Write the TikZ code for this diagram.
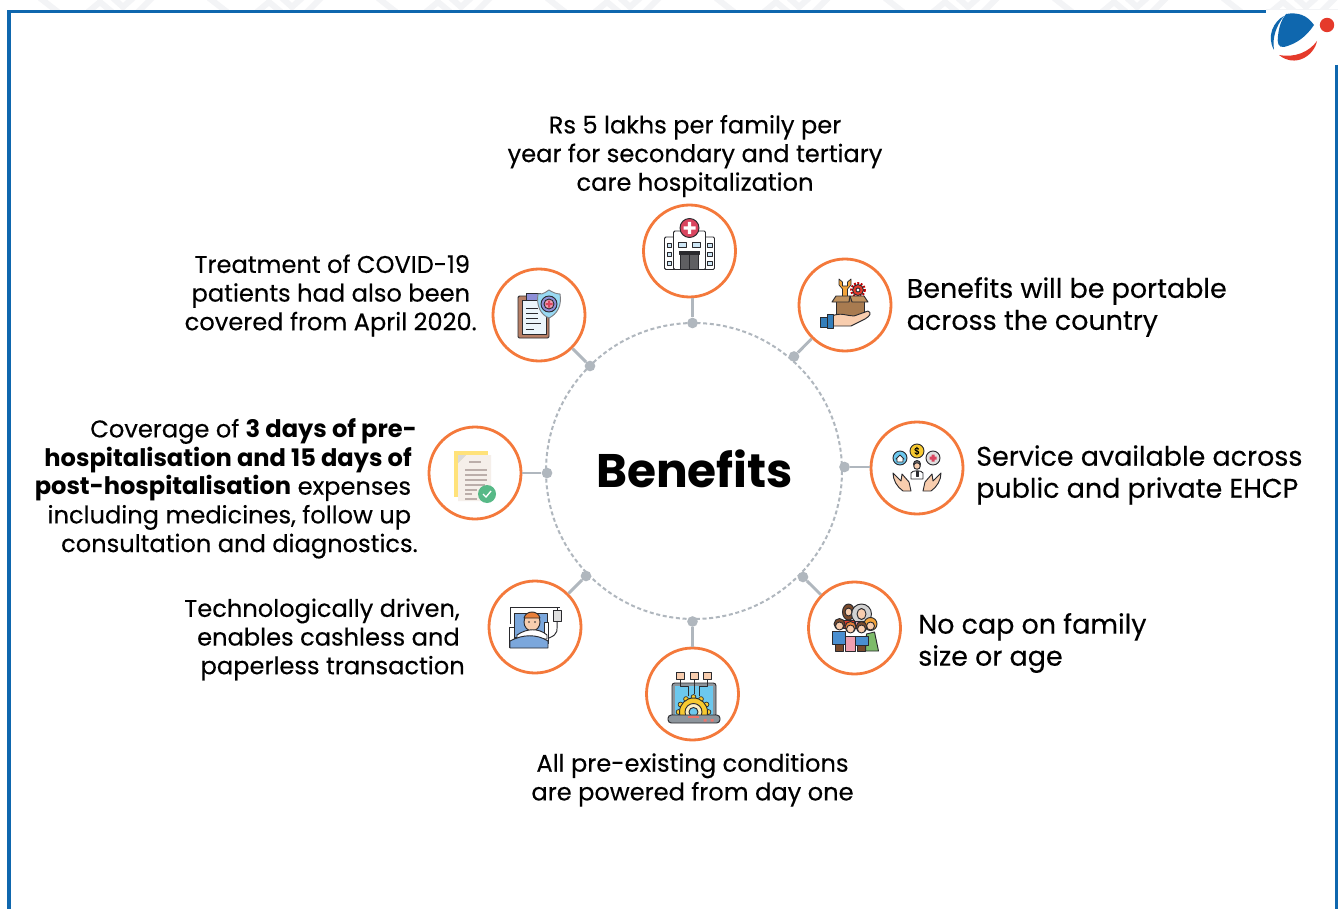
\documentclass[tikz,border=0pt]{standalone}
\usepackage{fontspec}
\setmainfont{Poppins}[FakeBold=0.3,BoldFeatures={FakeBold=0}]
\definecolor{blu}{HTML}{0F67AE}
\definecolor{org}{HTML}{F4793B}
\definecolor{gry}{HTML}{B0B7BE}
\definecolor{ink}{HTML}{2A2A2E}
\definecolor{faint}{HTML}{F3F4F6}
\definecolor{redm}{HTML}{E53A2B}
\definecolor{skin}{HTML}{F8CDAE}
\definecolor{boxb}{HTML}{A87B50}
\definecolor{boxl}{HTML}{C0925F}
\definecolor{crimson}{HTML}{D9455F}
\definecolor{sky}{HTML}{6CC8EE}
\definecolor{bed}{HTML}{7BA7DC}
\definecolor{wrench}{HTML}{F2A33A}
\definecolor{pale}{HTML}{CDE6F5}
\definecolor{paper}{HTML}{F5EFEA}
\definecolor{paperl}{HTML}{BBAEAA}
\definecolor{yel}{HTML}{FFE27A}
\definecolor{grn}{HTML}{57B987}
\definecolor{lap}{HTML}{8D959C}
\definecolor{gold}{HTML}{F7C92F}
\definecolor{clipb}{HTML}{B77F66}
\definecolor{vio}{HTML}{8E8FD8}
\definecolor{hairb}{HTML}{7A4A2C}
\definecolor{hairo}{HTML}{E87F3A}
\definecolor{tshirt}{HTML}{4A8FD0}
\definecolor{dress}{HTML}{7DBB6A}
\definecolor{rosy}{HTML}{F0A0B0}
\newcommand{\pad}[1]{\rule{#1}{0pt}}
\tikzset{
  x=0.75pt,y=-0.75pt,
  iconring/.style={circle,draw=org,line width=2.1pt,minimum size=69pt,inner sep=0pt,fill=white},
  hub/.style={circle,fill=gry,minimum size=8pt,inner sep=0pt},
  spoke/.style={draw=gry,line width=2.2pt},
  txt/.style={inner sep=0pt,text=black,font=\fontsize{18.1}{21.5}\selectfont},
  big/.style={inner sep=0pt,text=black,font=\fontsize{20.2}{24}\selectfont},
  ic/.style={draw=ink,line width=0.7pt,line join=round},
  chev/.style={draw=faint,line width=4.5pt},
}
\begin{document}
\begin{tikzpicture}
\useasboundingbox (0,0) rectangle (1338,909);
\fill[white] (0,0) rectangle (1338,909);
% faint band pattern along the top
\begin{scope}
\clip (0,0) rectangle (1338,10);
\foreach \k in {0,...,7}{
  \begin{scope}[shift={(169*\k,0)}]
    \draw[chev] (40,-2) -- (58,12);
    \draw[chev] (88,12) -- (100,2) -- (112,12);
    \draw[chev] (113,-2) -- (123,7) -- (133,-2);
    \draw[chev] (138,12) -- (152,-2);
  \end{scope}
}
\end{scope}
\draw[faint,line width=0.8pt] (1266,9.5) -- (1338,9.5);
% frame
\draw[blu,line width=2.3pt] (9,909) -- (9,11.5) -- (1266,11.5);
\draw[blu,line width=2.3pt] (1336.5,65) -- (1336.5,909);
% logo
\fill[blu] (1286,14) .. controls (1298,12) and (1307,15) .. (1314,25) .. controls (1306,37) and (1296,44) .. (1284,47) .. controls (1278,48) and (1277,42) .. (1278,36) .. controls (1279,27) and (1281,20) .. (1286,14) -- cycle;
\fill[blu] (1284,16) .. controls (1274,21) and (1266,36) .. (1274,50) .. controls (1272,38) and (1276,26) .. (1284,16) -- cycle;
\fill[redm] (1327,25) circle (7.2);
\fill[redm] (1279,55) .. controls (1295,58) and (1309,52) .. (1317,41) .. controls (1314,56) and (1295,68) .. (1279,55) -- cycle;
% central circle
\draw[gry,line width=1.5pt,dash pattern=on 3pt off 2pt] (694,471) circle (148);
\node[font=\fontsize{35.3}{40}\selectfont\bfseries,inner sep=0pt] (title) at (694.5,469) {Benefits};
% hubs
\node[hub] (h1) at (692.5,323) {};
\node[hub] (h2) at (794,356.5) {};
\node[hub] (h3) at (844.5,467) {};
\node[hub] (h4) at (803,577) {};
\node[hub] (h5) at (692.5,621.5) {};
\node[hub] (h6) at (586,576) {};
\node[hub] (h7) at (547,473) {};
\node[hub] (h8) at (590,366) {};
% rings
\node[iconring] (c1) at (689.5,251) {};
\node[iconring] (c2) at (845,305) {};
\node[iconring] (c3) at (917,468) {};
\node[iconring] (c4) at (854.5,628) {};
\node[iconring] (c5) at (692.5,694) {};
\node[iconring] (c6) at (535,627) {};
\node[iconring] (c7) at (475,473) {};
\node[iconring] (c8) at (539,315) {};
\draw[spoke] (h1) -- (c1.south -| h1);
\draw[spoke] (h2) -- (c2);
\draw[spoke] (h3) -- (c3.west |- h3);
\draw[spoke] (h4) -- (c4);
\draw[spoke] (h5) -- (c5);
\draw[spoke] (h6) -- (c6);
\draw[spoke] (h7) -- (c7);
\draw[spoke] (h8) -- (c8);
% icon 1: hospital
\begin{scope}[shift={(689.5,251)}]
\draw[ic,fill=white,rounded corners=1pt] (-25,-14) rectangle (25,18.5);
\draw[ic,fill=white,rounded corners=1pt] (-16,-20) rectangle (16,18.5);
\foreach \yy in {-8,1,10}{\draw[ic,fill=pale] (-22.5,\yy) rectangle (-18,\yy+4.5);\draw[ic,fill=pale] (18,\yy) rectangle (22.5,\yy+4.5);}
\draw[ic,fill=pale] (-11,-9) rectangle (-3,-4);
\draw[ic,fill=pale] (3,-9) rectangle (11,-4);
\draw[ic,fill=ink!75] (-9,3) rectangle (9,18.5);
\draw[ic] (0,3) -- (0,18.5);
\draw[ic,fill=ink] (-10,0.5) rectangle (10,3);
\draw[ic,fill=crimson] (0,-23) circle (9.5);
\fill[white] (-6,-24.7) rectangle (6,-21.3) (-1.7,-29) rectangle (1.7,-17);
\end{scope}
% icon 2: box on hand
\begin{scope}[shift={(845,305)}]
\draw[ic,fill=wrench,line width=0.5pt] (-6,-26) -- (-6,-20) -- (-2.5,-16) -- (-2.5,-8) -- (2.5,-8) -- (2.5,-16) -- (6,-20) -- (6,-26) -- (2.5,-23) -- (2.5,-19) -- (-2.5,-19) -- (-2.5,-23) -- cycle;
\draw[red!75!black,line width=1.6pt,dash pattern=on 1.4pt off 1.2pt] (13,-15) circle (6.8);
\draw[ic,fill=redm] (13,-15) circle (5.5);
\draw[ic,fill=white] (13,-15) circle (2);
\draw[ic,fill=boxb] (-9,-9) rectangle (19,13);
\draw[ic,fill=boxl] (-9,-9) -- (-13,-3) -- (4,-3) -- (5,-9) -- cycle;
\draw[ic,fill=boxl] (19,-9) -- (23,-3) -- (7,-3) -- (5,-9) -- cycle;
\draw[ic,fill=skin] (-13,11) .. controls (-4,7) and (2,11) .. (9,11) -- (23,6) .. controls (27,8) and (25,11) .. (20,14) -- (6,21) -- (-13,21) -- cycle;
\draw[ic,fill=blu!85] (-18,9) rectangle (-12,23);
\draw[ic,fill=blu!85] (-25,12) rectangle (-18,22);
\end{scope}
% icon 3: service
\begin{scope}[shift={(917,468)}]
\draw[ic,fill=sky] (-17,-10) circle (7);
\draw[ic,fill=white] (-21,-9) -- (-17,-13) -- (-13,-9) -- (-14,-9) -- (-14,-6) -- (-20,-6) -- (-20,-9) -- cycle;
\draw[ic,fill=gold] (0,-17) circle (7);
\node[font=\fontsize{7}{7}\selectfont,inner sep=0pt] (dollar) at (0,-17) {\$};
\draw[ic,fill=gray!25] (16,-10) circle (7);
\fill[crimson] (12.5,-11.5) rectangle (19.5,-8.5) (14.5,-13.5) rectangle (17.5,-6.5);
\draw[ic,fill=ink!70] (0,-4) circle (3.5);
\draw[ic,fill=skin] (0,-2) circle (3.3);
\draw[ic,fill=white] (-6,11) -- (-6,5) .. controls (-5,2) and (5,2) .. (6,5) -- (6,11) -- cycle;
\draw[ic,fill=ink] (-1,3) -- (1,3) -- (1,8) -- (-1,8) -- cycle;
\draw[ic,fill=skin] (-24,5) -- (-16,13) -- (-15,6) -- (-8,14) -- (-6,23) -- (-14,23) .. controls (-20,19) and (-24,12) .. (-24,5) -- cycle;
\draw[ic,fill=skin] (24,5) -- (16,13) -- (15,6) -- (8,14) -- (6,23) -- (14,23) .. controls (20,19) and (24,12) .. (24,5) -- cycle;
\end{scope}
% icon 4: family
\begin{scope}[shift={(854.5,628)}]
\draw[ic,fill=hairb] (-6,-16) ellipse (6 and 8);
\draw[ic,fill=gray!35] (7,-14) ellipse (10 and 10);
\draw[ic,fill=rosy] (1,-7) rectangle (11,0);
\draw[ic,fill=skin] (7,-14) ellipse (4.5 and 5.5);
\draw[ic,fill=skin] (-6,-16) ellipse (3.5 and 4);
\draw[ic,fill=redm] (-11,-8) rectangle (0,0);
\draw[ic,fill=dress] (12,6) -- (11,23) -- (24,23) -- (20,4) -- cycle;
\draw[ic,fill=wrench] (16,-4) circle (6.5);
\draw[ic,fill=skin] (16,-2) circle (4);
\draw[ic,fill=tshirt] (-22,3) rectangle (-9,16);
\draw[ic,fill=hairb] (-19,16) rectangle (-11,23);
\draw[ic,fill=hairb] (-15,-4) circle (5.5);
\draw[ic,fill=skin] (-15,-2) circle (4);
\draw[ic,fill=rosy] (-9,8) rectangle (1,23);
\draw[ic,fill=hairo] (-4,-1) circle (5.5);
\draw[ic,fill=skin] (-4,1) circle (4);
\draw[ic,fill=tshirt] (1,8) rectangle (14,17);
\draw[ic,fill=hairb] (3,17) rectangle (11,23);
\draw[ic,fill=hairb] (7,-1) circle (5.5);
\draw[ic,fill=skin] (7,1) circle (4);
\end{scope}
% icon 5: laptop
\begin{scope}[shift={(692.5,694)}]
\draw[ic,fill=lap,rounded corners=2pt] (-20.5,-11) rectangle (23.5,23);
\fill[sky] (-17.5,-8) rectangle (20.5,21);
\begin{scope}
\clip (-20,-8) rectangle (24,21);
\foreach \a in {0,30,...,330}{\fill[gold,draw=ink,line width=0.5pt] (1,18) ++(\a:15) circle (2.4);}
\draw[ic,fill=gold] (1,18) circle (14);
\draw[ic,fill=white!70!gold] (1,18) circle (8.5);
\draw[ic,fill=sky] (1,18) circle (4.5);
\end{scope}
\foreach \xx in {-12,1.5,15}{\draw[ic,fill=skin] (\xx-4,-22) rectangle (\xx+4,-15);}
\draw[ic] (-12,-15) -- (-12,-8) -- (-4,-8) -- (-4,2);
\draw[ic] (1.5,-15) -- (1.5,0);
\draw[ic] (15,-15) -- (15,-8) -- (7,-8) -- (7,2);
\draw[ic,fill=lap,rounded corners=2.5pt] (-24.5,21) rectangle (27.5,29);
\fill[redm!70] (-5,21.5) rectangle (6,24);
\fill[redm!70] (11,25) rectangle (14,27.5) (18,25) rectangle (21,27.5);
\end{scope}
% icon 6: patient
\begin{scope}[shift={(535,627)}]
\draw[ic] (-25,-3) -- (-25,-20) -- (25,-20);
\draw[ic,fill=gray!25] (18,-17) rectangle (26,-6);
\draw[ic] (22,-17) -- (22,-20);
\draw[ic] (22,-6) .. controls (22,3) and (24,7) .. (14,11);
\draw[ic,fill=bed] (-21,-14) rectangle (12,10);
\draw[ic,fill=white] (-26,0) rectangle (-21,20);
\draw[ic,fill=white] (9,-5) rectangle (13,16);
\draw[ic,fill=skin] (-3,-5) ellipse (8 and 9);
\draw[ic,fill=hairo] (-11,-9) .. controls (-9,-17) and (3,-17) .. (5,-9) -- cycle;
\fill[ink] (-6,-5) circle (0.9) (0,-5) circle (0.9);
\draw[ic,fill=white] (-18,8) .. controls (-8,1) and (4,1) .. (12,8) -- (12,12) -- (-18,12) -- cycle;
\draw[ic,fill=bed] (-25,21) -- (-25,14) .. controls (-12,7) and (2,7) .. (13,14) -- (13,21) -- cycle;
\end{scope}
% icon 7: document
\begin{scope}[shift={(475,473)}]
\fill[yel] (-21,-22) rectangle (13,24);
\fill[paper] (-17,-10) -- (-9,-18) -- (16,-18) -- (16,28) -- (-17,28) -- cycle;
\fill[gray!30] (-17,-10) -- (-17,-18) -- (-9,-18) -- cycle;
\foreach \yy/\ll/\rr in {-11/-6/6,-3/-10/12,2/-10/12,7/-10/12,12/-10/10,17/-10/2,21/-10/-3,26/-10/2}{
  \draw[paperl,line width=0.9pt] (\ll,\yy) -- (\rr,\yy);
}
\fill[grn] (12,21) circle (9);
\draw[white,line width=1pt] (8,21) -- (11,24) -- (16,18);
\end{scope}
% icon 8: clipboard
\begin{scope}[shift={(539,315)}]
\draw[ic,fill=clipb,rounded corners=1pt] (-21,-19) rectangle (10,23);
\draw[ic,fill=pale!40] (-17,-15) rectangle (7,19);
\draw[ic,fill=vio] (-13,-22) rectangle (1,-15);
\foreach \yy/\rr in {-7/-1,-2/-1,3/-1,8/2,14/-5}{\draw[ic] (-13,\yy) -- (\rr,\yy);}
\draw[draw=ink!60,fill=sky!70,line width=0.7pt] (-1,-21) .. controls (5,-20) and (9,-25) .. (10,-25) .. controls (13,-23) and (17,-21) .. (21,-21) .. controls (23,-9) and (18,-1) .. (10,3) .. controls (2,0) and (-3,-9) .. (-1,-21) -- cycle;
\draw[ic,fill=vio] (10,-11) circle (8);
\draw[ic,fill=rosy] (10,-11) circle (5);
\fill[crimson] (6.5,-12) rectangle (13.5,-10) (9,-14.5) rectangle (11,-7.5);
\end{scope}
% labels
\node[txt,align=center] (t1) at (695,156) {Rs 5 lakhs per family per\\year for secondary and tertiary\\care hospitalization};
\node[big,align=left,anchor=west] (t2) at (906.5,307) {Benefits will be portable\\across the country};
\node[big,align=left,anchor=west] (t3) at (976,475) {Service available across\\public and private EHCP};
\node[big,align=left,anchor=west] (t4) at (918,643) {No cap on family\\size or age};
\node[txt,align=center] (t5) at (692.5,780) {All pre-existing conditions\\are powered from day one};
\node[txt,align=right,anchor=east] (t6) at (465,639.5) {Technologically driven,\pad{3.75pt}\\enables cashless and\pad{3.75pt}\\paperless transaction};
\node[txt,align=right,anchor=east] (t7) at (418,488.5) {Coverage of \textbf{3 days of pre-}\pad{0.7pt}\\\textbf{hospitalisation and 15 days of}\pad{4.5pt}\\\textbf{post-hospitalisation} expenses\pad{5pt}\\including medicines, follow up\pad{5pt}\\consultation and diagnostics.};
\node[txt,align=right,anchor=east] (t8) at (477,295.5) {Treatment of COVID-19\pad{5pt}\\patients had also been\pad{5pt}\\covered from April 2020.};
\end{tikzpicture}
\end{document}
